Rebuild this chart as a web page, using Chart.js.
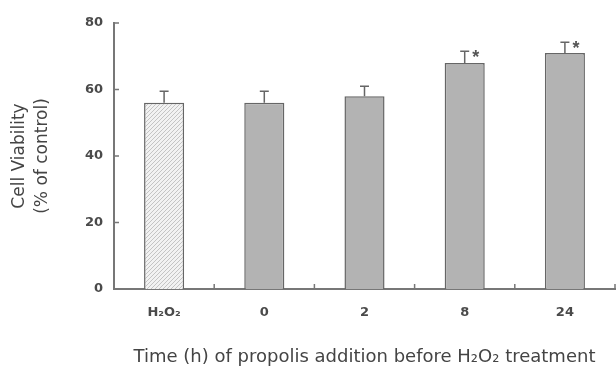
<!DOCTYPE html>
<html>
<head>
<meta charset="utf-8">
<script src="https://cdn.jsdelivr.net/npm/chart.js@4/dist/chart.umd.min.js"></script>
<style>
  body { margin: 0; background: #fff; }
  #wrap { width: 616px; height: 370px; }
</style>
</head>
<body>
<div id="wrap"><canvas id="viability-chart" width="616" height="370"></canvas></div>
<script>
const categories = ['H\u2082O\u2082', '0', '2', '8', '24'];
const viability = [56, 56, 58, 68, 71];
const errors = [3.5, 3.5, 3, 3.5, 3.2];
const marks = ['', '', '', '*', '*'];
const yTicks = [0, 20, 40, 60, 80];

const tickColor = '#4a4a4a';
const lineColor = '#777';
const fontFamily = '"DejaVu Sans", Verdana, sans-serif';

// light diagonal hatching for the H2O2 bar
function hatch() {
    const c = document.createElement('canvas');
    c.width = 4; c.height = 4;
    const g = c.getContext('2d');
    g.fillStyle = '#f2f2f2';
    g.fillRect(0, 0, 4, 4);
    g.strokeStyle = '#c4c4c4';
    g.lineWidth = 1;
    g.beginPath();
    g.moveTo(0, 4); g.lineTo(4, 0);
    g.moveTo(-1, 1); g.lineTo(1, -1);
    g.moveTo(3, 5); g.lineTo(5, 3);
    g.stroke();
    return g.createPattern(c, 'repeat');
}

const fills = categories.map((c, i) => i === 0 ? hatch() : '#b3b3b3');

// error bars (upper only), significance stars, inward tick marks
const extras = {
    id: 'extras',
    afterDatasetsDraw(chart) {
        const ctx = chart.ctx;
        const meta = chart.getDatasetMeta(0);
        const y = chart.scales.y;
        ctx.save();
        ctx.strokeStyle = '#666';
        ctx.lineWidth = 1.5;
        meta.data.forEach((bar, i) => {
            const top = y.getPixelForValue(viability[i] + errors[i]);
            ctx.beginPath();
            ctx.moveTo(bar.x, bar.y);
            ctx.lineTo(bar.x, top);
            ctx.moveTo(bar.x - 4.5, top);
            ctx.lineTo(bar.x + 4.5, top);
            ctx.stroke();
            if (marks[i]) {
                ctx.fillStyle = '#555';
                ctx.font = 'bold 18px "Liberation Sans", Arial, sans-serif';
                ctx.textAlign = 'center';
                ctx.textBaseline = 'middle';
                ctx.fillText(marks[i], bar.x + 11, top + 7);
            }
        });
        ctx.restore();
    },
    afterDraw(chart) {
        const ctx = chart.ctx;
        const area = chart.chartArea;
        const y = chart.scales.y;
        ctx.save();
        ctx.strokeStyle = lineColor;
        ctx.lineWidth = 1.5;
        ctx.beginPath();
        yTicks.forEach(v => {
            const py = y.getPixelForValue(v);
            ctx.moveTo(area.left, py);
            ctx.lineTo(area.left + 5, py);
        });
        const w = (area.right - area.left) / categories.length;
        for (let i = 1; i <= categories.length; i++) {
            const px = area.left + i * w;
            ctx.moveTo(px, area.bottom);
            ctx.lineTo(px, area.bottom - 5);
        }
        ctx.stroke();
        ctx.restore();
    }
};

new Chart(document.getElementById('viability-chart'), {
    type: 'bar',
    data: {
        labels: categories,
        datasets: [{
            data: viability,
            backgroundColor: fills,
            borderColor: '#666',
            borderWidth: 1.5,
            categoryPercentage: 1,
            barPercentage: 0.4
        }]
    },
    options: {
        responsive: false,
        animation: false,
        events: [],
        layout: { padding: { top: 23, right: 1, left: 0, bottom: 0 } },
        plugins: { legend: { display: false }, tooltip: { enabled: false } },
        scales: {
            x: {
                grid: { display: false },
                border: { color: lineColor, width: 2 },
                ticks: {
                    color: tickColor,
                    padding: 8,
                    font: { family: fontFamily, size: 13, weight: 'bold' }
                },
                title: {
                    display: true,
                    text: 'Time (h) of propolis addition before H\u2082O\u2082 treatment',
                    color: '#444',
                    padding: { top: 0, bottom: 2 },
                    font: { family: fontFamily, size: 18 }
                },
                afterFit(scale) { scale.height = 81; }
            },
            y: {
                min: 0,
                max: 80,
                ticks: {
                    stepSize: 20,
                    color: tickColor,
                    padding: 3,
                    font: { family: fontFamily, size: 13, weight: 'bold' }
                },
                grid: { display: false },
                border: { color: lineColor, width: 2 },
                title: {
                    display: true,
                    text: ['Cell Viability', '(% of control)'],
                    color: '#444',
                    padding: { top: 9, bottom: 0 },
                    font: { family: fontFamily, size: 17, lineHeight: 1.3 }
                },
                afterFit(scale) { scale.width = 114; }
            }
        }
    },
    plugins: [extras]
});
</script>
</body>
</html>
